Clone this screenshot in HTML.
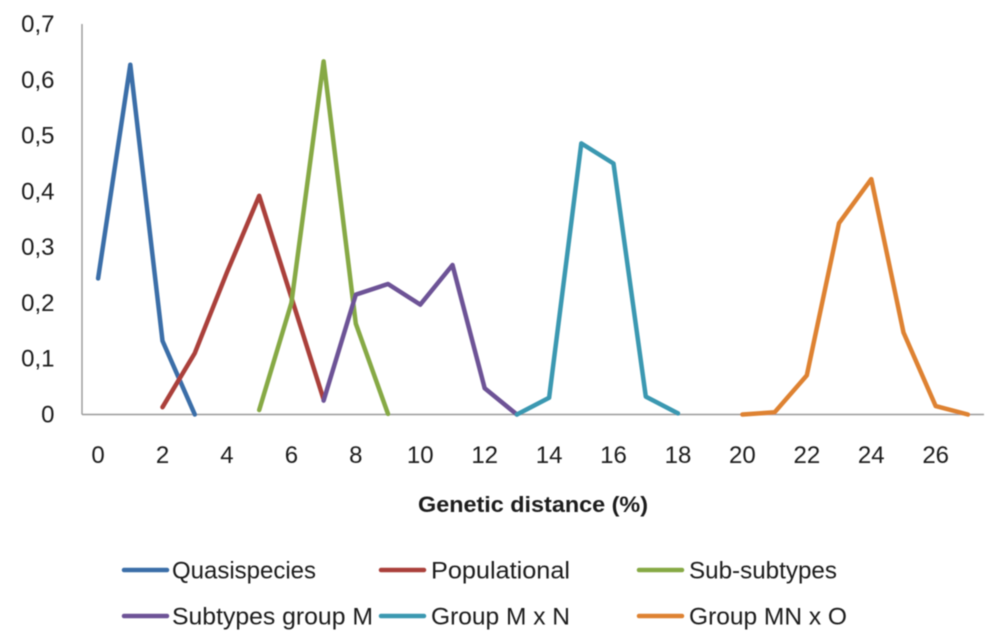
<!DOCTYPE html>
<html>
<head>
<meta charset="utf-8">
<style>
html,body{margin:0;padding:0;background:#fff;}
svg{display:block;}
text{font-family:"Liberation Sans",sans-serif;fill:#1a1a1a;}
</style>
</head>
<body>
<svg id="chart" width="1000" height="639" viewBox="0 0 1000 639" xmlns="http://www.w3.org/2000/svg">
<defs><filter id="soft" x="-5%" y="-5%" width="110%" height="110%"><feGaussianBlur stdDeviation="0.4"/></filter></defs>
<g id="root" filter="url(#soft)"></g>
</svg>
<script>
var yTickValues = [0, 0.1, 0.2, 0.3, 0.4, 0.5, 0.6, 0.7];
var yTickLabels = ['0', '0,1', '0,2', '0,3', '0,4', '0,5', '0,6', '0,7'];
var xTickValues = [0, 2, 4, 6, 8, 10, 12, 14, 16, 18, 20, 22, 24, 26];
var xTickLabels = ['0', '2', '4', '6', '8', '10', '12', '14', '16', '18', '20', '22', '24', '26'];
var xAxisTitle = 'Genetic distance (%)';

var quasispeciesX = [0, 1, 2, 3];
var quasispeciesY = [0.244, 0.627, 0.132, 0];
var populationalX = [2, 3, 4, 5, 6, 7];
var populationalY = [0.013, 0.11, 0.255, 0.392, 0.21, 0.027];
var subSubtypesX = [5, 6, 7, 8, 9];
var subSubtypesY = [0.008, 0.2, 0.633, 0.163, 0.001];
var subtypesMX = [7, 8, 9, 10, 11, 12, 13];
var subtypesMY = [0.025, 0.215, 0.234, 0.197, 0.268, 0.047, 0];
var groupMNX = [13, 14, 15, 16, 17, 18];
var groupMNY = [0, 0.03, 0.486, 0.45, 0.032, 0.002];
var groupMNOX = [20, 21, 22, 23, 24, 25, 26, 27];
var groupMNOY = [0, 0.004, 0.07, 0.343, 0.422, 0.147, 0.015, 0];

var seriesNames = ['Quasispecies', 'Populational', 'Sub-subtypes', 'Subtypes group M', 'Group M x N', 'Group MN x O'];
var seriesColors = ['#3a6ea8', '#aa3f3b', '#86a944', '#6d5296', '#3a98b1', '#de8232'];
var seriesXs = [quasispeciesX, populationalX, subSubtypesX, subtypesMX, groupMNX, groupMNOX];
var seriesYs = [quasispeciesY, populationalY, subSubtypesY, subtypesMY, groupMNY, groupMNOY];

var plotLeft = 82, plotRight = 984, plotTop = 24, plotBottom = 414.5;
var categoryCount = 28, yMax = 0.7;
function xScale(v){ return plotLeft + (v + 0.5) * (plotRight - plotLeft) / categoryCount; }
function yScale(v){ return plotBottom - v / yMax * (plotBottom - plotTop); }

var NS = 'http://www.w3.org/2000/svg';
var root = document.getElementById('root');
function make(tag, attrs, parent){
  var el = document.createElementNS(NS, tag);
  for (var k in attrs) el.setAttribute(k, attrs[k]);
  (parent || root).appendChild(el);
  return el;
}

var yAxis = make('line', {x1: plotLeft, x2: plotLeft, y1: plotTop, y2: plotBottom, stroke: '#9a9a9a', 'stroke-width': 1.4});


var xAxis = make('line', {x1: plotLeft, x2: plotRight, y1: plotBottom, y2: plotBottom, stroke: '#9a9a9a', 'stroke-width': 1.4});



yTickValues.forEach(function(v, i){
  var t = make('text', {x: 54.5, y: yScale(v) + 8, 'text-anchor': 'end', 'font-size': 24});
  t.textContent = yTickLabels[i];
  
  
});
xTickValues.forEach(function(v, i){
  var t = make('text', {x: xScale(v), y: 463, 'text-anchor': 'middle', 'font-size': 24});
  t.textContent = xTickLabels[i];
  
  
});

var title = make('text', {x: 418, y: 512, 'font-size': 22, 'font-weight': 'bold', textLength: 230, lengthAdjust: 'spacingAndGlyphs'});
title.textContent = xAxisTitle;



seriesNames.forEach(function(name, s){
  var pts = seriesXs[s].map(function(x, i){ return xScale(x).toFixed(1) + ',' + yScale(seriesYs[s][i]).toFixed(1); }).join(' ');
  var line = make('polyline', {points: pts, fill: 'none', stroke: seriesColors[s], 'stroke-width': 4.5, 'stroke-linejoin': 'round', 'stroke-linecap': 'round'});
  
  
});

var legendSwatchStarts = [124, 381, 639];
var legendTextStarts = [172, 431, 689];
var legendRows = [570, 616];
var legendTextWidths = [144, 139, 148, 201, 139, 158];
seriesNames.forEach(function(name, s){
  var col = s % 3, row = Math.floor(s / 3);
  var lx = legendSwatchStarts[col], ly = legendRows[row];
  var swatch = make('line', {x1: lx, x2: lx + 43, y1: ly, y2: ly, stroke: seriesColors[s], 'stroke-width': 4.5, 'stroke-linecap': 'round'});
  
  
  var label = make('text', {x: legendTextStarts[col], y: ly + 8.5, 'font-size': 24, textLength: legendTextWidths[s], lengthAdjust: 'spacingAndGlyphs'});
  label.textContent = name;
  
  
});
</script>
</body>
</html>
